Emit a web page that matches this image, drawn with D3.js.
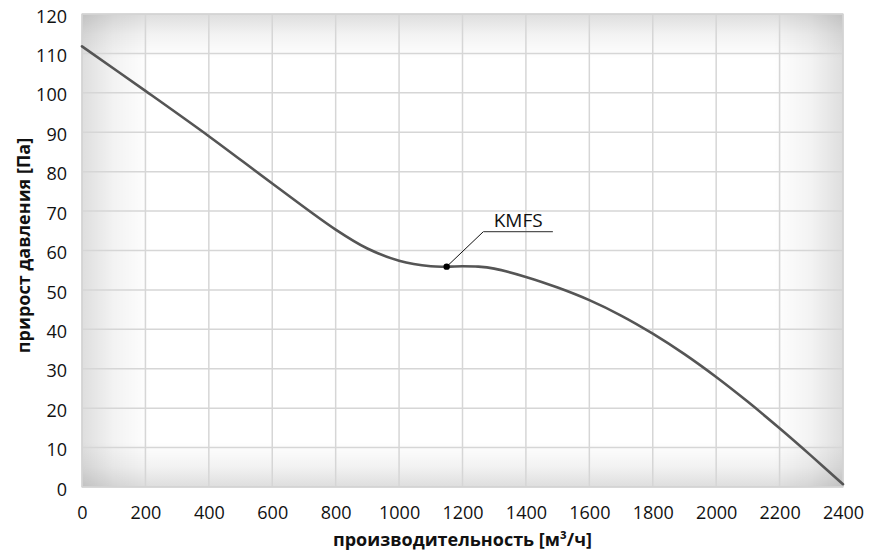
<!DOCTYPE html>
<html>
<head>
<meta charset="utf-8">
<script src="https://cdn.jsdelivr.net/npm/d3@7"></script>
<style>
  html, body { margin: 0; padding: 0; background: #ffffff; }
  svg { display: block; }
  text { font-family: "Open Sans", "DejaVu Sans", sans-serif; fill: #111; }
</style>
</head>
<body>
<svg id="chart" width="877" height="557"></svg>
<script>
// ---- data ----
const flow = [0, 200, 400, 600, 800, 900, 1000, 1100, 1150, 1200, 1250, 1300, 1400, 1500, 1600, 1700, 1800, 1900, 2000, 2100, 2200, 2300, 2400];
const pressure = [111.8, 100.5, 89, 77, 65.3, 60.5, 57.4, 56.0, 55.9, 56.0, 55.9, 55.4, 53.3, 50.6, 47.4, 43.5, 38.9, 33.7, 27.9, 21.6, 14.9, 7.9, 0.7];
const xTicks = [0, 200, 400, 600, 800, 1000, 1200, 1400, 1600, 1800, 2000, 2200, 2400];
const yTicks = [0, 10, 20, 30, 40, 50, 60, 70, 80, 90, 100, 110, 120];
const seriesName = "KMFS";
const markerPoint = { x: 1150, y: 55.9 };
const labelAnchor = { x: 1266, y: 64.8 };
const labelEnd = { x: 1485, y: 64.8 };
const xTitle = "производительность [м³/ч]";
const yTitle = "прирост давления [Па]";

// ---- layout ----
const svg = d3.select("#chart");
const L = 82, R = 843, T = 14, B = 487;
const x = d3.scaleLinear().domain([0, 2400]).range([L, R]);
const y = d3.scaleLinear().domain([0, 120]).range([B, T]);

const defs = svg.append("defs");
function lin(id, x1, y1, x2, y2, stops) {
  const g = defs.append("linearGradient").attr("id", id)
    .attr("x1", x1).attr("y1", y1).attr("x2", x2).attr("y2", y2);
  stops.forEach(s => g.append("stop").attr("offset", s[0]).attr("stop-color", s[1]).attr("stop-opacity", s[2]));
}
const sh = [[0, "#000", 0.13], [0.45, "#000", 0.05], [1, "#000", 0]];
lin("gl", 0, 0, 1, 0, sh);
lin("gr", 1, 0, 0, 0, sh);
lin("gt", 0, 0, 0, 1, sh);
lin("gb", 0, 1, 0, 0, sh);

// background
svg.append("rect").attr("x", L).attr("y", T).attr("width", R - L).attr("height", B - T).attr("fill", "#ffffff");
svg.append("rect").attr("x", L).attr("y", T).attr("width", 70).attr("height", B - T).attr("fill", "url(#gl)");
svg.append("rect").attr("x", R - 70).attr("y", T).attr("width", 70).attr("height", B - T).attr("fill", "url(#gr)");
svg.append("rect").attr("x", L).attr("y", T).attr("width", R - L).attr("height", 45).attr("fill", "url(#gt)");
svg.append("rect").attr("x", L).attr("y", B - 45).attr("width", R - L).attr("height", 45).attr("fill", "url(#gb)");

// grid
const grid = svg.append("g");
grid.selectAll("line.v").data(xTicks).join("line")
  .attr("x1", d => x(d)).attr("x2", d => x(d)).attr("y1", T).attr("y2", B)
  .attr("stroke", "#d6d6d6").attr("stroke-width", 1.5);
grid.selectAll("line.h").data(yTicks).join("line")
  .attr("x1", L).attr("x2", R).attr("y1", d => y(d)).attr("y2", d => y(d))
  .attr("stroke", "#d6d6d6").attr("stroke-width", 1.5);
svg.append("rect").attr("x", L).attr("y", T).attr("width", R - L).attr("height", B - T)
  .attr("fill", "none").attr("stroke", "#d2d2d2").attr("stroke-width", 1.2);

// axes (labels only)
const xAxis = d3.axisBottom(x).tickValues(xTicks).tickSize(0).tickPadding(19).tickFormat(d3.format("d"));
const gx = svg.append("g").attr("transform", `translate(0,${B})`).call(xAxis);
gx.select(".domain").remove();
gx.selectAll("text").attr("font-size", 18).attr("fill", "#111").style("font-family", "Open Sans");

const yAxis = d3.axisLeft(y).tickValues(yTicks).tickSize(0).tickPadding(15).tickFormat(d3.format("d"));
const gy = svg.append("g").attr("transform", `translate(${L},0)`).call(yAxis);
gy.select(".domain").remove();
gy.selectAll("text").attr("font-size", 18).attr("fill", "#111").attr("dy", "0.45em").style("font-family", "Open Sans");

// titles
svg.append("text").attr("x", (L + R) / 2).attr("y", 546).attr("text-anchor", "middle")
  .attr("font-size", 18).attr("font-weight", "bold").text(xTitle);
svg.append("text").attr("transform", `translate(30,${(T + B) / 2 - 5}) rotate(-90)`).attr("text-anchor", "middle")
  .attr("font-size", 18).attr("font-weight", "bold").text(yTitle);

// curve
const pts = flow.map((f, i) => [f, pressure[i]]);
const line = d3.line().x(d => x(d[0])).y(d => y(d[1])).curve(d3.curveCatmullRom.alpha(0.5));
svg.append("path").datum(pts).attr("d", line)
  .attr("fill", "none").attr("stroke", "#555555").attr("stroke-width", 2.6).attr("stroke-linecap", "round");

// annotation
svg.append("path")
  .attr("d", `M${x(markerPoint.x)},${y(markerPoint.y)} L${x(labelAnchor.x)},${y(labelAnchor.y)}`)
  .attr("stroke", "#111").attr("stroke-width", 1).attr("fill", "none");
svg.append("path")
  .attr("d", `M${x(labelAnchor.x)},${y(labelAnchor.y)} L${x(labelEnd.x)},${y(labelEnd.y)}`)
  .attr("stroke", "#555").attr("stroke-width", 1.4).attr("fill", "none");
svg.append("circle").attr("cx", x(markerPoint.x)).attr("cy", y(markerPoint.y)).attr("r", 3.2).attr("fill", "#000");
svg.append("text").attr("x", (x(labelAnchor.x) + x(labelEnd.x)) / 2).attr("y", y(labelAnchor.y) - 5)
  .attr("text-anchor", "middle").attr("font-size", 19).text(seriesName);
</script>
</body>
</html>
